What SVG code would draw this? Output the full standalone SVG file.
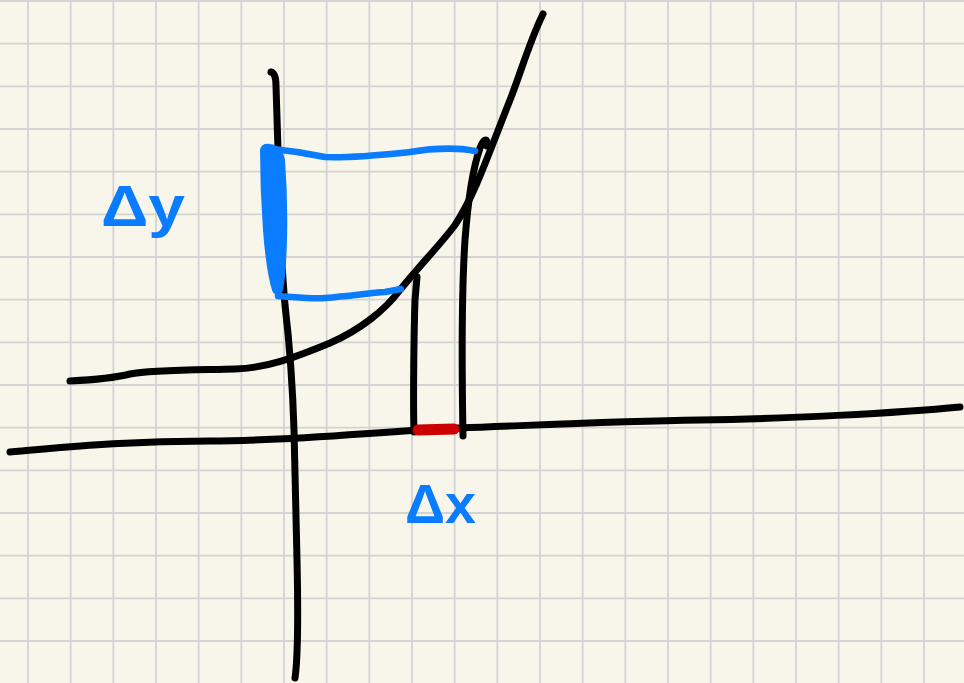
<svg xmlns="http://www.w3.org/2000/svg" width="964" height="683" viewBox="0 0 964 683">
<style>
.grid{stroke:#d3d3d3;stroke-width:1.8;fill:none}
.ink{fill:none;stroke:#000;stroke-width:7;stroke-linecap:round;stroke-linejoin:round}
.blue{fill:none;stroke:#0a7cff;stroke-width:6.5;stroke-linecap:round;stroke-linejoin:round}
.red{fill:none;stroke:#cc0000;stroke-width:11;stroke-linecap:round}
.lbl{font-family:"Liberation Sans","DejaVu Sans",sans-serif;font-weight:bold;fill:#0a7cff}
</style>
<rect width="964" height="683" fill="#f8f6ea"/>
<path class="grid" d="M28,0V683M70.67,0V683M113.33,0V683M156,0V683M198.67,0V683M241.33,0V683M284,0V683M326.67,0V683M369.33,0V683M412,0V683M454.67,0V683M497.33,0V683M540,0V683M582.67,0V683M625.33,0V683M668,0V683M710.67,0V683M753.33,0V683M796,0V683M838.67,0V683M881.33,0V683M924,0V683
M0,1H964M0,43.67H964M0,86.33H964M0,129H964M0,171.67H964M0,214.33H964M0,257H964M0,299.67H964M0,342.33H964M0,385H964M0,427.67H964M0,470.33H964M0,513H964M0,555.67H964M0,598.33H964M0,641H964"/>
<g id="axes">
<path id="y-axis" class="ink" d="M271,72 Q276,73 276,86 L278,150 Q280,250 285,305 Q292,365 294,430 L297,560 Q299,650 295,678"/>
<path id="x-axis" class="ink" d="M10,452 C60,448 120,441 210,441 S380,431 460,428 S620,421 700,420 S900,413 960,407"/>
</g>
<g id="curve">
<path class="ink" d="M70,381 C90,380 110,379 130,374 C150,370 200,370 235,369 C270,368 300,355 330,343 C360,330 385,310 400,290 C420,265 440,245 455,225 C475,195 490,150 510,100 C520,75 530,40 543,14"/>
</g>
<g id="verticals">
<path class="ink" d="M414,432 C413,400 414,330 415,300 L417,277"/>
<path class="ink" d="M463,436 C462,380 461,300 465,240 C468,200 474,165 480,148 C483,140 488,136 487,146"/>
</g>
<g id="delta-y">
<path d="M262,150 Q263,145 270,146 Q280,147 283,160 Q286,200 285,240 Q284,275 281,290 Q278,297 274,290 Q268,270 265,230 Q262,190 262,150 Z" fill="#0a7cff" stroke="#0a7cff" stroke-width="4" stroke-linejoin="round"/>
<path class="blue" d="M265,148 C285,150 300,152 325,157 C355,158 380,155 410,152 C435,148 460,148 475,151"/>
<path class="blue" d="M278,296 C295,297 310,299 325,298 C350,296 370,293 385,292 L401,289"/>
<text class="lbl" x="101" y="226" font-size="58" textLength="84" lengthAdjust="spacingAndGlyphs">Δy</text>
</g>
<g id="delta-x">
<path class="red" d="M418,430 L454,429"/>
<text class="lbl" x="405" y="523" font-size="55" textLength="71" lengthAdjust="spacingAndGlyphs">Δx</text>
</g>
</svg>
